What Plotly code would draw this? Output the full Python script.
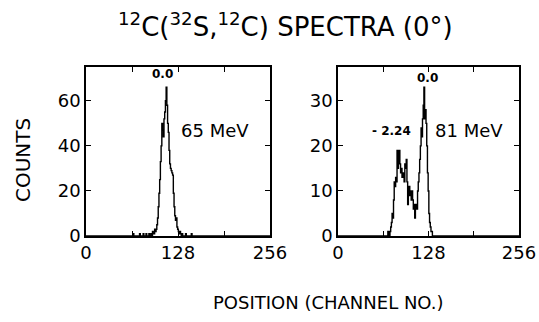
import plotly.graph_objects as go

# ---- data (channel -> counts) ----
left_channels = [66, 75, 80, 84, 88, 91, 93, 94, 95, 96, 97, 98, 99, 100, 101, 102, 103, 104, 105,
                 106, 107, 108, 109, 110, 111, 112, 113, 114, 115, 116, 117, 118, 119, 120, 121,
                 122, 123, 124, 125, 126, 127, 128, 129, 130, 131, 132, 134, 139, 147]
left_counts = [1, 1, 1, 1, 1, 1, 2, 1, 1, 3, 2, 3, 5, 8, 13, 19, 25, 33, 40,
               50, 47, 44, 52, 55, 60, 66, 58, 50, 46, 38, 32, 30, 29, 28, 27,
               19, 13, 9, 7, 8, 4, 3, 2, 1, 2, 1, 1, 1, 1]

right_channels = [71, 72, 74, 75, 76, 77, 78, 79, 80, 81, 82, 83, 84, 85, 86, 87, 88, 89, 90,
                  91, 92, 93, 94, 95, 96, 97, 98, 99, 100, 101, 102, 103, 104, 105, 106, 107,
                  108, 109, 110, 111, 112, 113, 114, 115, 116, 117, 118, 119, 120, 121, 122,
                  123, 124, 125, 126, 127, 128, 129, 130, 131, 132, 133]
right_counts = [1, 1, 1, 2, 3, 5, 4, 8, 12, 11, 13, 12, 19, 15, 18, 19, 16, 14, 15,
                13, 14, 13, 12, 16, 15, 17, 12, 7, 9, 11, 10, 9, 8, 10, 8, 6,
                7, 4, 6, 7, 6, 10, 12, 14, 17, 20, 24, 22, 26, 29, 33,
                26, 28, 25, 20, 14, 10, 5, 3, 2, 1, 1]

x_tickvals = [0, 128, 256]
x_ticktext = ["0", "128", "256"]
left_yticks = [0, 20, 40, 60]
right_yticks = [0, 10, 20, 30]


def full_spectrum(chs, cts):
    d = dict(zip(chs, cts))
    xs = list(range(0, 257))
    ys = [d.get(c, 0) for c in xs]
    return xs, ys


lx, ly = full_spectrum(left_channels, left_counts)
rx, ry = full_spectrum(right_channels, right_counts)

FONT = "DejaVu Sans"
W, H = 539, 322

fig = go.Figure()
fig.add_trace(go.Scatter(x=lx, y=ly, mode="lines", line=dict(color="black", width=1.4, shape="hvh"),
                         xaxis="x", yaxis="y", showlegend=False, hoverinfo="skip"))
fig.add_trace(go.Scatter(x=rx, y=ry, mode="lines", line=dict(color="black", width=1.4, shape="hvh"),
                         xaxis="x2", yaxis="y2", showlegend=False, hoverinfo="skip"))

ydom = [(H - 236) / H, (H - 67) / H]
axis_common = dict(showline=True, linecolor="black", linewidth=1.5, mirror="allticks",
                   ticks="inside", ticklen=5, tickwidth=1.2, tickcolor="black",
                   showgrid=False, zeroline=False, automargin=False,
                   tickfont=dict(family=FONT, size=18, color="black"))
xminor = dict(dtick=64, ticks="inside", ticklen=5, tickwidth=1.2, tickcolor="black", showgrid=False)

fig.update_layout(
    width=W, height=H,
    margin=dict(l=0, r=0, t=0, b=0),
    paper_bgcolor="white", plot_bgcolor="white",
    xaxis=dict(domain=[86 / W, 270 / W], range=[0, 256], tickvals=x_tickvals, ticktext=x_ticktext,
               anchor="y", minor=xminor, **axis_common),
    yaxis=dict(domain=ydom, range=[0, 75], tickvals=left_yticks, anchor="x", **axis_common),
    xaxis2=dict(domain=[338 / W, 519 / W], range=[0, 256], tickvals=x_tickvals, ticktext=x_ticktext,
                anchor="y2", minor=xminor, **axis_common),
    yaxis2=dict(domain=ydom, range=[0, 37.5], tickvals=right_yticks, anchor="x2", **axis_common),
)

ann = []
ann.append(dict(text="<sup>12</sup>C(<sup>32</sup>S,<sup>12</sup>C) SPECTRA (0°)", x=285 / W, y=1 - 25 / H,
                xref="paper", yref="paper", showarrow=False, xanchor="center", yanchor="middle",
                font=dict(family=FONT, size=26, color="black")))
ann.append(dict(text="COUNTS", x=23 / W, y=1 - 160 / H, xref="paper", yref="paper", textangle=-90,
                xanchor="center", yanchor="middle",
                showarrow=False, font=dict(family=FONT, size=20, color="black")))
ann.append(dict(text="POSITION (CHANNEL NO.)", x=328 / W, y=1 - 302 / H, xref="paper", yref="paper",
                xanchor="center", yanchor="middle",
                showarrow=False, font=dict(family=FONT, size=18, color="black")))
ann.append(dict(text="<b>0.0</b>", x=106, y=72, xref="x", yref="y", showarrow=False,
                font=dict(family=FONT, size=12, color="black")))
ann.append(dict(text="65 MeV", x=179, y=47, xref="x", yref="y", showarrow=False,
                font=dict(family=FONT, size=18, color="black")))
ann.append(dict(text="<b>0.0</b>", x=127, y=35, xref="x2", yref="y2", showarrow=False,
                font=dict(family=FONT, size=12, color="black")))
ann.append(dict(text="<b>- 2.24</b>", x=75, y=23.3, xref="x2", yref="y2", showarrow=False,
                font=dict(family=FONT, size=12, color="black")))
ann.append(dict(text="81 MeV", x=185, y=23.3, xref="x2", yref="y2", showarrow=False,
                font=dict(family=FONT, size=18, color="black")))
fig.update_layout(annotations=ann)

fig.write_html("out.html")
